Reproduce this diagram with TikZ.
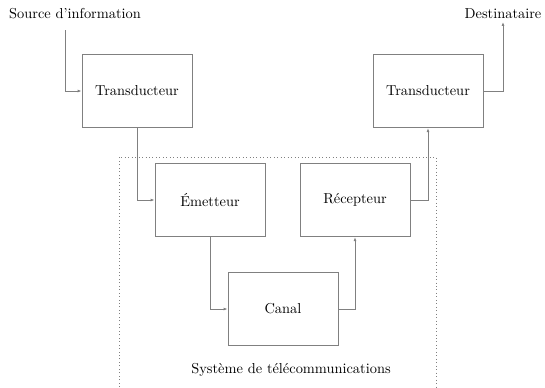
\documentclass[tikz,border=0pt]{standalone}
\usepackage{tikz}
\usetikzlibrary{arrows.meta,positioning}

\begin{document}
\begin{tikzpicture}[x=0.75pt, y=-0.75pt,
  bloc/.style={draw=gray, line width=0.6pt, minimum width=82.5pt, minimum height=55pt, font=\fontsize{10.8}{13}\selectfont},
  lien/.style={draw=gray, line width=0.6pt, -{Latex[length=3pt,width=2.2pt]}},
  txt/.style={font=\fontsize{10.8}{13}\selectfont, inner sep=2pt}]
\useasboundingbox (0,0) rectangle (545,387);
% cadre du systeme
\draw[gray, dotted, line width=0.6pt] (119,387) -- (119,157) -- (436,157) -- (436,387);
\node[txt] at (291,370) {Syst\`eme de t\'el\'ecommunications};
% blocs
\node[txt] (src) at (75,14) {Source d'information};
\coordinate (s0) at (65,30);
\node[txt] (dest) at (503,14) {Destinataire};
\node[bloc] (t1) at (137,91) {Transducteur};
\node[bloc] (t2) at (428,91) {Transducteur};
\node[bloc] (emet) at (210,200) {\'Emetteur};
\node[bloc] (recep) at (355,200) {R\'ecepteur};
\node[bloc] (canal) at (283,309) {Canal};
% liaisons
\draw[lien] (s0) |- (t1.west);
\draw[lien] (t1.south) |- (emet.west);
\draw[lien] (emet.south) |- (canal.west);
\draw[lien] (canal.east) -| (recep.south);
\draw[lien] (recep.east) -| (t2.south);
\draw[lien] (t2.east) -| (dest.south);
\end{tikzpicture}
\end{document}
